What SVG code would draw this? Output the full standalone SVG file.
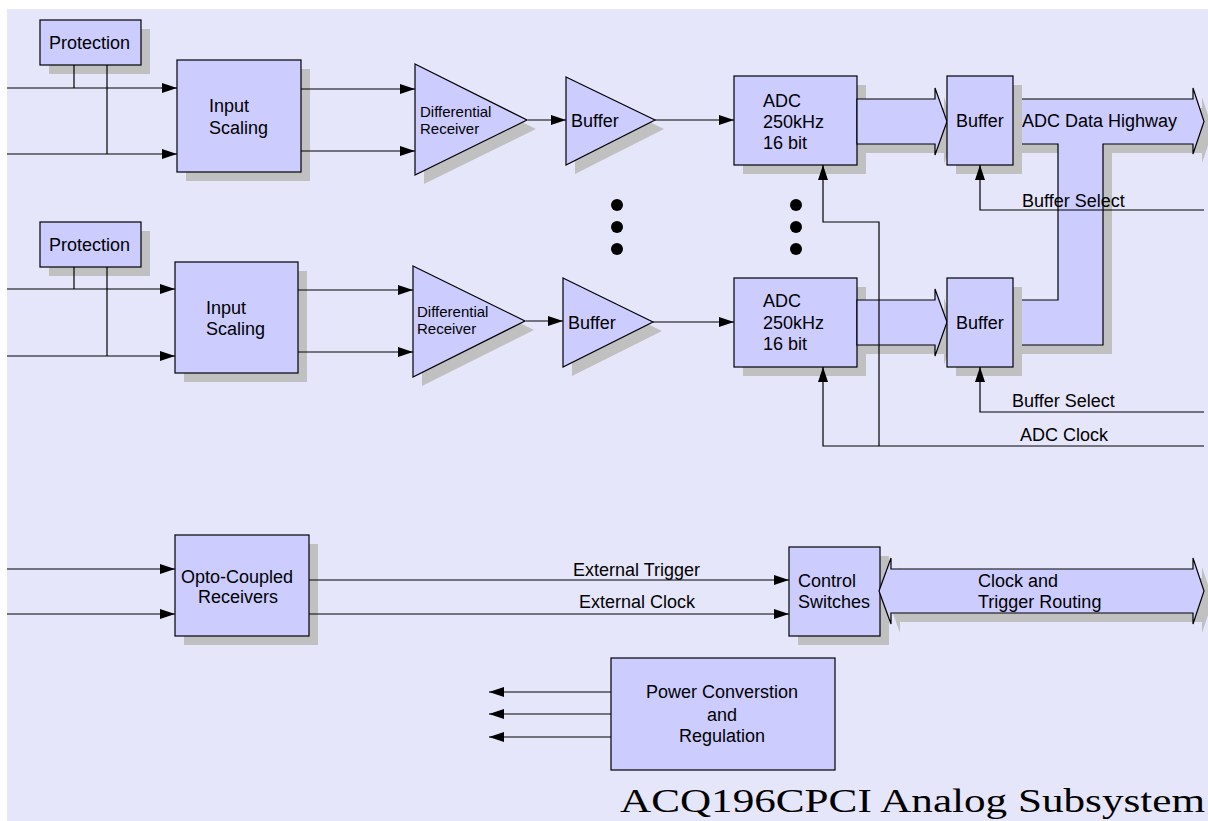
<svg xmlns="http://www.w3.org/2000/svg" xmlns:xlink="http://www.w3.org/1999/xlink" width="1208" height="821" viewBox="0 0 1208 821">
<style>
.bx{fill:#ccccff;stroke:#000;stroke-width:1.2}
.sh{fill:#c0c0c0}
.ln{fill:none;stroke:#000;stroke-width:1.2}
.ar{fill:none;stroke:#000;stroke-width:1.2;marker-end:url(#ah)}
.t{font-family:"Liberation Sans",Arial,sans-serif;font-size:18px;fill:#000}
.ts{font-family:"Liberation Sans",Arial,sans-serif;font-size:15px;fill:#000}
.c{text-anchor:middle}
.dot{fill:#000}
</style>
<defs>
<marker id="ah" viewBox="0 0 15 10" refX="15" refY="5" markerWidth="15" markerHeight="10" markerUnits="userSpaceOnUse" orient="auto">
<path d="M0,0 L15,5 L0,10 z" fill="#000"/>
</marker>
</defs>
<rect x="7" y="9" width="1201" height="812" fill="#e6e6fa"/>

<g id="nodes">
<g id="prot1"><rect class="sh" x="49" y="29" width="101" height="45"/><rect class="bx" x="40" y="20" width="101" height="45"/><text class="t" x="49" y="49">Protection</text></g>
<g id="scale1"><rect class="sh" x="186" y="69" width="124" height="112"/><rect class="bx" x="177" y="60" width="124" height="112"/><text class="t" x="209" y="112">Input</text><text class="t" x="209" y="134">Scaling</text></g>
<g id="diff1"><polygon class="sh" points="424,73 536,129 424,184"/><polygon class="bx" points="415,64 527,120 415,175"/><text class="ts" x="420" y="117">Differential</text><text class="ts" x="420" y="134">Receiver</text></g>
<g id="buf1"><polygon class="sh" points="575,86 664,129 575,174"/><polygon class="bx" points="566,77 655,120 566,165"/><text class="t" x="571" y="127">Buffer</text></g>
<g id="adc1"><rect class="sh" x="743" y="85" width="123" height="89"/><rect class="bx" x="734" y="76" width="123" height="89"/><text class="t" x="763" y="107">ADC</text><text class="t" x="763" y="128">250kHz</text><text class="t" x="763" y="149">16 bit</text></g>
<g id="bus1"><polygon class="sh" points="866,108 944,108 944,97 956,130.5 944,164 944,153 866,153"/><polygon class="bx" points="857,99 935,99 935,88 947,121.5 935,155 935,144 857,144"/></g>

<g id="prot2"><rect class="sh" x="49" y="231" width="101" height="45"/><rect class="bx" x="40" y="222" width="101" height="45"/><text class="t" x="49" y="251">Protection</text></g>
<g id="scale2"><rect class="sh" x="184" y="271" width="123" height="111"/><rect class="bx" x="175" y="262" width="123" height="111"/><text class="t" x="206" y="314">Input</text><text class="t" x="206" y="335">Scaling</text></g>
<g id="diff2"><polygon class="sh" points="422,275 534,330 422,386"/><polygon class="bx" points="413,266 525,321 413,377"/><text class="ts" x="417" y="317">Differential</text><text class="ts" x="417" y="334">Receiver</text></g>
<g id="buf2"><polygon class="sh" points="572,287 662,331 572,376"/><polygon class="bx" points="563,278 653,322 563,367"/><text class="t" x="568" y="329">Buffer</text></g>
<g id="adc2"><rect class="sh" x="743" y="287" width="123" height="89"/><rect class="bx" x="734" y="278" width="123" height="89"/><text class="t" x="763" y="307">ADC</text><text class="t" x="763" y="329">250kHz</text><text class="t" x="763" y="350">16 bit</text></g>
<g id="bus2"><polygon class="sh" points="866,309 944,309 944,298 956,331 944,365 944,354 866,354"/><polygon class="bx" points="857,300 935,300 935,289 947,322 935,356 935,345 857,345"/></g>

<g id="highway"><polygon class="sh" points="1022,108 1202,108 1202,97 1213,130.5 1202,163 1202,153 1112,153 1112,354 1022,354 1022,309 1067,309 1067,153 1022,153"/><polygon class="bx" points="1013,99 1193,99 1193,88 1204,121.5 1193,154 1193,144 1103,144 1103,345 1013,345 1013,300 1058,300 1058,144 1013,144"/><text class="t" x="1022" y="127">ADC Data Highway</text></g>
<g id="bufsel1"><rect class="sh" x="956" y="85" width="66" height="89"/><rect class="bx" x="947" y="76" width="66" height="89"/><text class="t" x="956" y="127">Buffer</text></g>
<g id="bufsel2"><rect class="sh" x="956" y="287" width="66" height="89"/><rect class="bx" x="947" y="278" width="66" height="89"/><text class="t" x="956" y="329">Buffer</text></g>

<g id="dots"><circle class="dot" cx="617" cy="205" r="6"/><circle class="dot" cx="617" cy="227" r="6"/><circle class="dot" cx="617" cy="249" r="6"/><circle class="dot" cx="796" cy="205" r="6"/><circle class="dot" cx="796" cy="227" r="6"/><circle class="dot" cx="796" cy="249" r="6"/></g>

<g id="opto"><rect class="sh" x="184" y="544" width="134" height="101"/><rect class="bx" x="175" y="535" width="134" height="101"/><text class="t c" x="237" y="583">Opto-Coupled</text><text class="t c" x="238" y="603">Receivers</text></g>
<g id="ctrl"><rect class="sh" x="798" y="556" width="91" height="89"/><rect class="bx" x="789" y="547" width="91" height="89"/><text class="t" x="798" y="587">Control</text><text class="t" x="798" y="608">Switches</text></g>
<g id="routing"><polygon class="sh" points="888,600 900,567 900,578 1202,578 1202,567 1213,600 1202,633 1202,622 900,622 900,633"/><polygon class="bx" points="879,591 891,558 891,569 1193,569 1193,558 1204,591 1193,624 1193,613 891,613 891,624"/><text class="t" x="978" y="587">Clock and</text><text class="t" x="978" y="608">Trigger Routing</text></g>
<g id="power"><rect class="bx" x="611" y="658" width="224" height="112"/><text class="t c" x="722" y="698">Power Converstion</text><text class="t c" x="722" y="721">and</text><text class="t c" x="722" y="742">Regulation</text></g>
</g>

<g id="connectors">
<line class="ar" x1="7" y1="88" x2="177" y2="88"/>
<line class="ar" x1="7" y1="154" x2="177" y2="154"/>
<line class="ln" x1="74" y1="65" x2="74" y2="88"/>
<line class="ln" x1="107" y1="65" x2="107" y2="154"/>
<line class="ar" x1="301" y1="89" x2="415" y2="89"/>
<line class="ar" x1="301" y1="151" x2="415" y2="151"/>
<line class="ar" x1="528" y1="120" x2="566" y2="120"/>
<line class="ar" x1="655" y1="120" x2="734" y2="120"/>

<line class="ar" x1="7" y1="289" x2="175" y2="289"/>
<line class="ar" x1="7" y1="356" x2="175" y2="356"/>
<line class="ln" x1="74" y1="267" x2="74" y2="289"/>
<line class="ln" x1="107" y1="267" x2="107" y2="356"/>
<line class="ar" x1="298" y1="290" x2="413" y2="290"/>
<line class="ar" x1="298" y1="352" x2="413" y2="352"/>
<line class="ar" x1="526" y1="321" x2="563" y2="321"/>
<line class="ar" x1="653" y1="322" x2="734" y2="322"/>

<polyline class="ar" points="1204,210 980,210 980,165"/>
<text class="t" x="1022" y="207">Buffer Select</text>
<polyline class="ar" points="1204,412 980,412 980,367"/>
<text class="t" x="1012" y="407">Buffer Select</text>
<polyline class="ar" points="879,446 879,222 823,222 823,165"/>
<polyline class="ar" points="1204,446 823,446 823,367"/>
<text class="t" x="1020" y="441">ADC Clock</text>

<line class="ar" x1="7" y1="569" x2="175" y2="569"/>
<line class="ar" x1="7" y1="614" x2="175" y2="614"/>
<line class="ar" x1="309" y1="580" x2="789" y2="580"/>
<line class="ar" x1="309" y1="614" x2="789" y2="614"/>
<text class="t" x="573" y="576">External Trigger</text>
<text class="t" x="579" y="608">External Clock</text>

<line class="ar" x1="611" y1="692" x2="489" y2="692"/>
<line class="ar" x1="611" y1="714" x2="489" y2="714"/>
<line class="ar" x1="611" y1="737" x2="489" y2="737"/>
</g>

<text x="620" y="812" font-family="'Liberation Serif','Times New Roman',serif" font-size="34" textLength="585" lengthAdjust="spacingAndGlyphs">ACQ196CPCI Analog Subsystem</text>
</svg>
